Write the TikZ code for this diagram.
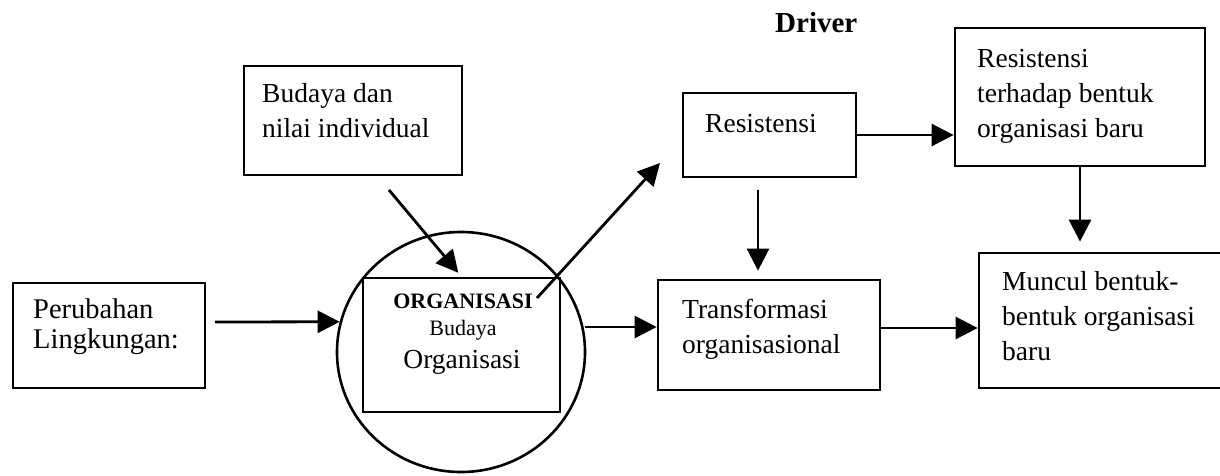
\documentclass[tikz,border=0pt]{standalone}
\usepackage{fontspec}
\setmainfont{Liberation Serif}
\usetikzlibrary{arrows.meta,shapes.geometric,calc}
\begin{document}
\begin{tikzpicture}[x=1pt,y=-1pt,
  box/.style={draw, line width=2.8pt, inner sep=0pt, rectangle},
  txt/.style={anchor=base west, inner sep=0pt, font=\fontsize{27.5}{35}\selectfont},
  ctxt/.style={anchor=base, inner sep=0pt},
  arr/.style={line width=2.8pt, -{Triangle[length=22pt,width=22pt]}}]
\useasboundingbox (0,0) rectangle (1220,475);

% boxes
\node[box, minimum width=192pt, minimum height=105pt] (per) at (109,335.5) {};
\node[txt, font=\fontsize{28.5}{30}\selectfont] (pert) at (33,318) {\begin{tabular}[t]{@{}l@{}}Perubahan\\Lingkungan:\end{tabular}};

\node[box, minimum width=218pt, minimum height=109pt] (bud) at (353,120.5) {};
\node[txt] (budt) at (262,102) {\begin{tabular}[t]{@{}l@{}}Budaya dan\\nilai individual\end{tabular}};

\node[draw, ellipse, line width=2.6pt, minimum width=248pt, minimum height=240pt, inner sep=0pt] (circ) at (461,352) {};
\node[box, minimum width=197pt, minimum height=134pt] (inner) at (461.5,345) {};
\node[ctxt, font=\bfseries\fontsize{22}{26}\selectfont] (orgt) at (463,308) {ORGANISASI};
\node[ctxt, font=\fontsize{22}{26}\selectfont] (budy) at (463,335) {Budaya};
\node[ctxt, font=\fontsize{27.5}{32}\selectfont] (orgn) at (462,368) {Organisasi};

\node[anchor=base west, inner sep=0pt, font=\bfseries\fontsize{29}{34}\selectfont] (drv) at (775,32) {Driver};

\node[box, minimum width=173pt, minimum height=84pt] (res) at (769.5,135) {};
\node[txt] (rest) at (705,132) {Resistensi};

\node[box, minimum width=250pt, minimum height=138pt] (terh) at (1080,97) {};
\node[txt] (terht) at (977,67) {\begin{tabular}[t]{@{}l@{}}Resistensi\\terhadap bentuk\\organisasi baru\end{tabular}};

\node[box, minimum width=222pt, minimum height=110pt] (trans) at (769,335) {};
\node[txt] (transt) at (682,318) {\begin{tabular}[t]{@{}l@{}}Transformasi\\organisasional\end{tabular}};

\node[box, minimum width=244pt, minimum height=135pt] (munc) at (1101,320.5) {};
\node[txt] (munct) at (1002,290) {\begin{tabular}[t]{@{}l@{}}Muncul bentuk-\\bentuk organisasi\\baru\end{tabular}};

% connectors
\coordinate (a1) at (215,322);
\draw[arr] (a1) -- (circ.166);

\coordinate (a2) at (389,190);
\draw[arr, shorten >=5pt] (a2) -- (inner.north);

\coordinate (a3s) at (537,298);
\coordinate (a3e) at (660,163);
\draw[arr] (a3s) -- (a3e);

\coordinate (a4) at (585,327);
\draw[arr] (a4) -- (a4 -| trans.west);

\coordinate (a5) at (758,190);
\draw[arr, shorten >=8pt] (a5) -- (a5 |- trans.north);

\draw[arr] (res.east) -- (res.east -| terh.west);

\draw[arr, shorten >=10pt] (terh.south) -- (terh.south |- munc.north);

\coordinate (a8) at (880,328);
\draw[arr] (a8) -- (a8 -| munc.west);
\end{tikzpicture}
\end{document}
